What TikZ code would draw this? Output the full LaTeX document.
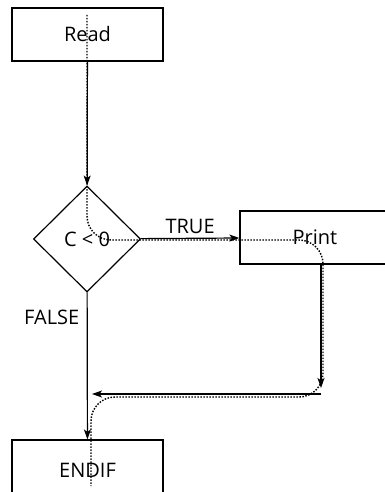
\documentclass[tikz,border=0pt]{standalone}
\usepackage{fontspec}
\setmainfont{Open Sans}
\usetikzlibrary{arrows.meta,shapes.geometric}

\begin{document}
\begin{tikzpicture}[x=1pt,y=-1pt,line width=1.2pt,
  font=\fontsize{20}{24}\selectfont,
  block/.style={draw,rectangle,inner sep=0pt},
  test/.style={draw,diamond,inner sep=0pt,minimum width=107pt,minimum height=106pt},
  flow/.style={-{Stealth[length=10pt,width=7pt,inset=2.5pt]}},
  trace/.style={line width=1.4pt,dash pattern=on 1.5pt off 1.5pt}]
\useasboundingbox (0,0) rectangle (385,492);

\node[block,minimum width=151pt,minimum height=53pt] (read) at (87.5,34.5) {Read};
\node[test] (cond) at (87,239) {C < 0};
\node[block,minimum width=150pt,minimum height=53pt] (print) at (315,237.5) {Print};
\node[block,minimum width=151pt,minimum height=60pt] (endif) at (87.5,470) {ENDIF};

\coordinate (down) at (321,388);
\coordinate (back) at (321,394);
\coordinate (join) at (92,394);

\draw[flow] (read) -- (cond);
\draw[flow] (cond) -- node[above=1pt] {TRUE} (print);
\draw[flow] (cond) -- node[pos=0.17,left=4pt] {FALSE} (endif);
\draw[flow] (print.south -| down) -- (down);
\draw[flow] (back) -- (join);

% dotted trace of the run
\draw[trace,rounded corners=24pt] (87,15) -- (87,240) -- (323,240) -- (323,397) -- (91,397) -- (91,486);
\end{tikzpicture}
\end{document}
